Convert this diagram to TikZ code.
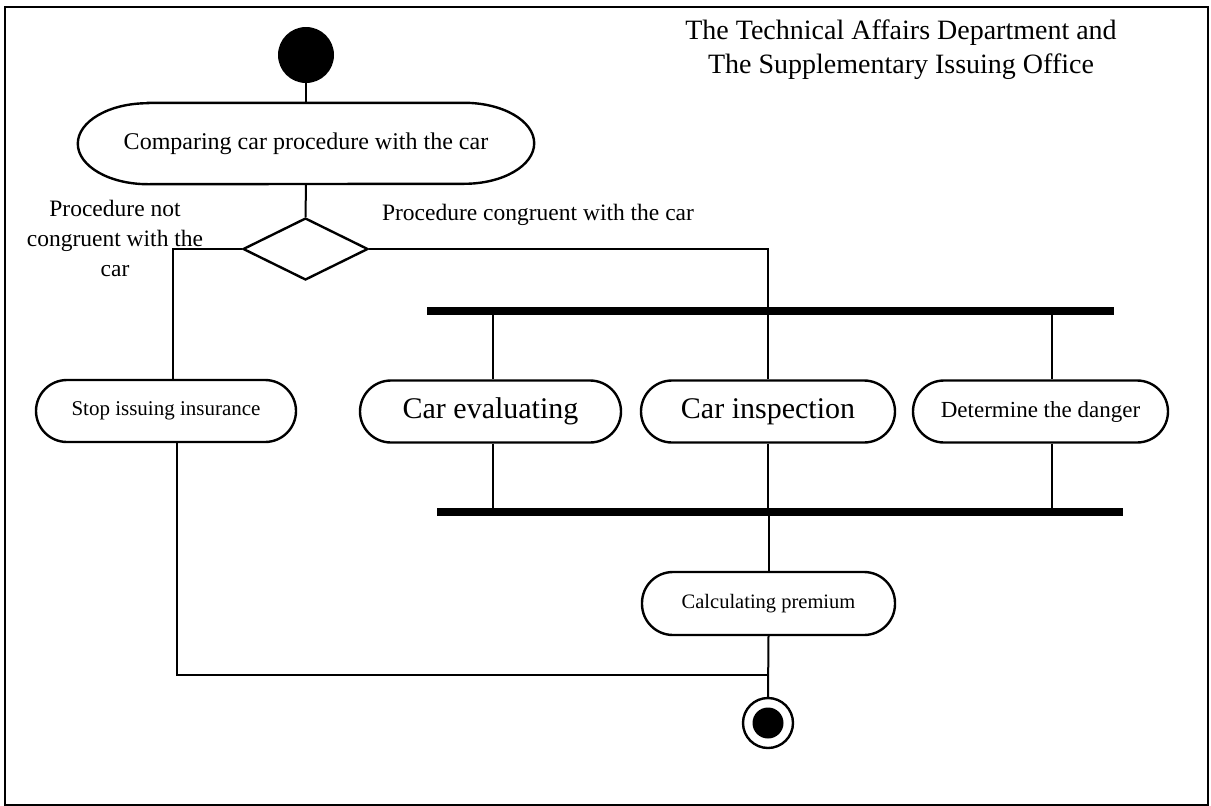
\documentclass[tikz,border=0pt]{standalone}
\usepackage{fontspec}
\setmainfont{Liberation Serif}
\usetikzlibrary{shapes.geometric}
\begin{document}
\begin{tikzpicture}[x=1pt,y=-1pt,
  conn/.style={line width=2pt},
  act/.style={draw, line width=2.4pt, rounded corners=31pt, minimum height=62pt, inner sep=0pt},
  bar/.style={fill=black, inner sep=0pt, minimum height=8pt},
  lbl/.style={inner sep=0pt, font=\fontsize{23.5}{30}\selectfont, align=center}]
\useasboundingbox (0,0) rectangle (1211,806);
\draw[line width=2pt] (5,7) rectangle (1208,805);
% title
\node[align=center, font=\fontsize{28}{34}\selectfont, inner sep=0pt] (title) at (901,50)
  {The Technical Affairs Department and\\The Supplementary Issuing Office};
% start
\node[circle, fill=black, minimum size=56pt, inner sep=0pt] (start) at (306,55) {};
% compare action (elliptic ends)
\node[minimum width=456pt, minimum height=81pt, inner sep=0pt, font=\fontsize{24}{29}\selectfont] (cmp) at (306,143.5) {Comparing car procedure with the car};
\draw[line width=2.4pt] ([xshift=70pt]cmp.north west) -- ([xshift=-70pt]cmp.north east)
  arc[start angle=90, end angle=-90, x radius=70pt, y radius=40.5pt]
  -- ([xshift=70pt]cmp.south west)
  arc[start angle=270, end angle=90, x radius=70pt, y radius=40.5pt] -- cycle;
% decision
\node[diamond, draw, line width=2.4pt, minimum width=125pt, minimum height=62pt, inner sep=0pt] (dec) at (305.5,249) {};
% labels
\node[lbl] (lno) at (115,238) {Procedure not\\congruent with the\\car};
\node[lbl] (lyes) at (538,215) {Procedure congruent with the car};
% actions
\node[act, minimum width=260pt, font=\fontsize{21}{25}\selectfont] (stop) at (166,411) {Stop issuing insurance};
\node[act, minimum width=261pt, font=\fontsize{30}{36}\selectfont] (eval) at (490.5,411.5) {Car evaluating};
\node[act, minimum width=254pt, font=\fontsize{30}{36}\selectfont] (insp) at (768,411.5) {Car inspection};
\node[act, minimum width=255pt, font=\fontsize{23}{28}\selectfont] (danger) at (1040.5,411.5) {Determine the danger};
\node[act, minimum width=253pt, minimum height=63pt, font=\fontsize{20.5}{25}\selectfont] (calc) at (768.5,603.5) {Calculating premium};
% bars
\node[bar, minimum width=687pt] (fork) at (770.5,311) {};
\node[bar, minimum width=686pt] (join) at (780,512) {};
% final
\node[circle, draw, line width=2.4pt, minimum size=50pt, inner sep=0pt] (final) at (768,723) {};
\node[circle, fill=black, minimum size=31pt, inner sep=0pt] (finaldot) at (final) {};
\coordinate (merge) at (768,675);
% connectors
\draw[conn] (start.south) -- (cmp.south |- start.south) -- (cmp.north);
\draw[conn] (cmp.south) -- (dec.north);
\draw[conn] (dec.west) -| ([xshift=7pt]stop.north);
\draw[conn] (dec.east) -| (insp.north);
\draw[conn] (fork.south -| eval.north) ++(2.5pt,0) -- ([xshift=2.5pt]eval.north);
\draw[conn] ([xshift=11.5pt]danger.north |- fork.south) -- ([xshift=11.5pt]danger.north);
\draw[conn] ([xshift=2.5pt]eval.south) -- ([xshift=2.5pt]eval.south |- join.north);
\draw[conn] (insp.south) -- (insp.south |- join.north);
\draw[conn] ([xshift=11.5pt]danger.south) -- ([xshift=11.5pt]danger.south |- join.north);
\draw[conn] (join.south -| calc.north) -- (calc.north);
\draw[conn] (calc.south) -- (final.north);
\draw[conn] ([xshift=11pt]stop.south) |- (merge);
\end{tikzpicture}
\end{document}
